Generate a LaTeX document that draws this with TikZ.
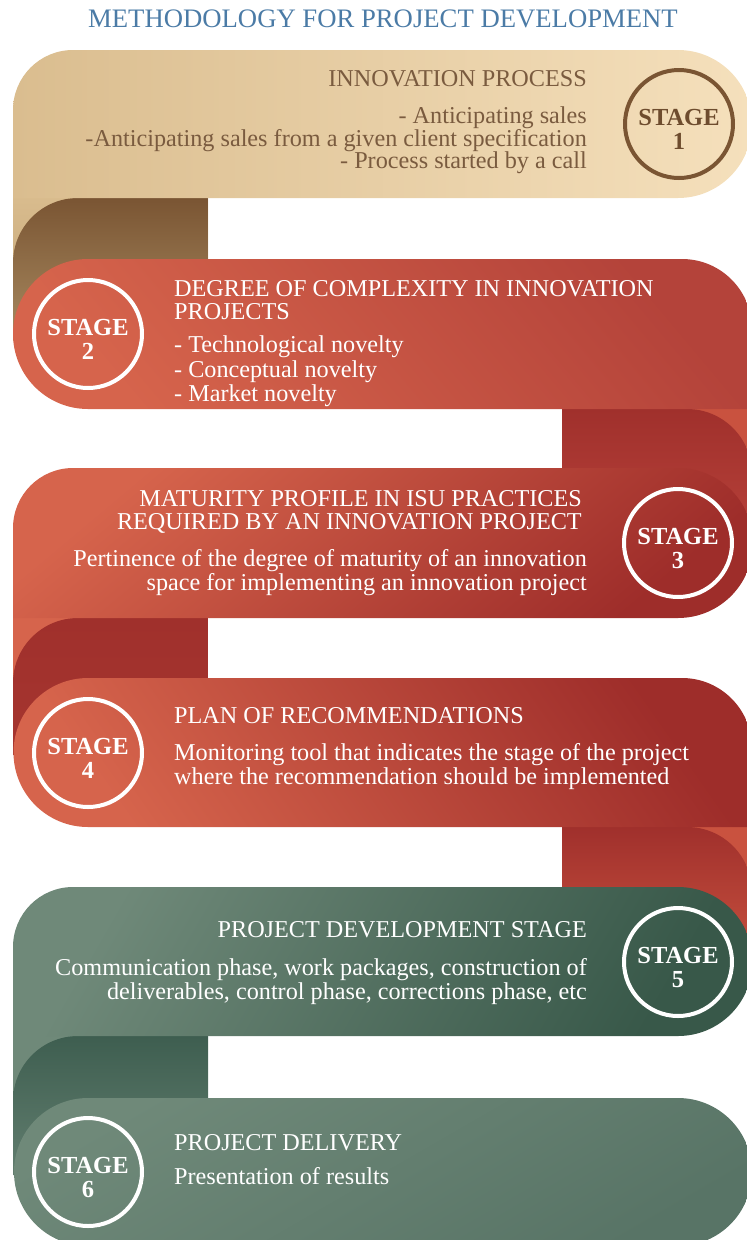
\documentclass[tikz,border=0pt]{standalone}
\usepackage{fontspec}
\setmainfont{Liberation Serif}
\usepackage{xcolor}
\usetikzlibrary{shapes.geometric,positioning}

\definecolor{titleblue}{HTML}{4B7BA6}
\definecolor{tanL}{HTML}{DABD8F}
\definecolor{tanM}{HTML}{F2DBB3}
\definecolor{tanR}{HTML}{F5E0BC}
\definecolor{tanB}{HTML}{BFA172}
\definecolor{brownD}{HTML}{7A5533}
\definecolor{brownL}{HTML}{A88A60}
\definecolor{browntxt}{HTML}{7A5B3F}
\definecolor{redL}{HTML}{D6644C}
\definecolor{redM}{HTML}{D05E48}
\definecolor{redD}{HTML}{9E2D2A}
\definecolor{redT}{HTML}{B4433A}
\definecolor{redF}{HTML}{A0302C}
\definecolor{redG}{HTML}{B8423A}
\definecolor{redE}{HTML}{C9523F}
\definecolor{greenL}{HTML}{6F8979}
\definecolor{greenM}{HTML}{56725F}
\definecolor{greenD}{HTML}{385849}
\definecolor{greenF}{HTML}{3E5E50}
\definecolor{greenG}{HTML}{627E6F}
\definecolor{greenS}{HTML}{587466}

\tikzset{
  stagering/.style={circle, draw=white, line width=4pt, minimum size=108pt, inner sep=0pt},
  stagelabel/.style={align=center, text=white, inner sep=0pt, yshift=-5pt,
    font=\bfseries\fontsize{24.5}{24}\selectfont},
  headtxt/.style={inner sep=0pt, text=white, font=\fontsize{24.2}{23}\selectfont},
  bodytxt/.style={inner sep=0pt, text=white, font=\fontsize{24.2}{24}\selectfont}
}

\begin{document}
\begin{tikzpicture}[x=1pt, y=-1pt]
  \useasboundingbox (0,0) rectangle (747,1240);
  \clip (0,0) rectangle (747,1240);

  % Title
  \node[font=\fontsize{26.7}{28}\selectfont, text=titleblue, anchor=north, inner sep=0pt]
    (title) at (383,10) {METHODOLOGY FOR PROJECT DEVELOPMENT};

  % Folds behind the bands
  \shade[top color=tanL, bottom color=tanB] (13,190) rectangle (208,340);
  \shade[top color=brownD, bottom color=brownL]
    (13,340) -- (13,263) arc[start angle=180, end angle=270, radius=65] -- (208,198) -- (208,340) -- cycle;
  \fill[redE] (562,400) rectangle (752,545);
  \shade[top color=redF, bottom color=redG]
    (562,409) -- (687,409) arc[start angle=270, end angle=360, radius=65] -- (752,545) -- (562,545) -- cycle;
  \fill[redL] (13,610) rectangle (208,755);
  \shade[top color=redF, bottom color=redF!90!redL]
    (13,755) -- (13,683) arc[start angle=180, end angle=270, radius=65] -- (208,618) -- (208,755) -- cycle;
  \fill[redE] (562,820) rectangle (752,965);
  \shade[top color=redF, bottom color=redE]
    (562,827) -- (687,827) arc[start angle=270, end angle=360, radius=65] -- (752,965) -- (562,965) -- cycle;
  \fill[greenL] (13,1030) rectangle (208,1175);
  \shade[top color=greenF, bottom color=greenG]
    (13,1175) -- (13,1101) arc[start angle=180, end angle=270, radius=65] -- (208,1036) -- (208,1175) -- cycle;

  % Stage 1
  \shade[left color=tanL, middle color=tanM, right color=tanR]
    (13,198) -- (13,110) arc[start angle=180, end angle=270, radius=60] -- (678,50)
    arc[start angle=270, end angle=450, radius=74] -- cycle;
  \node[stagering, draw=brownD] (s1) at (679,124) {};
  \node[stagelabel, text=brownD!90!black] (t1) at (s1) {STAGE\\1};
  \node[headtxt, text=browntxt, anchor=north east] (h1) at (587,70) {INNOVATION PROCESS};
  \node[bodytxt, text=browntxt, anchor=north east, align=right,
    font=\fontsize{24.2}{22.5}\selectfont] (b1) at (587,107)
    {- Anticipating sales\\-Anticipating sales from a given client specification\\- Process started by a call};

  % Stage 2
  \shade[top color=redT, bottom color=redL, shading angle=-50]
    (88,259) -- (682,259) arc[start angle=270, end angle=360, radius=70] -- (752,409)
    -- (88,409) arc[start angle=90, end angle=270, radius=75] -- cycle;
  \node[stagering] (s2) at (88,334) {};
  \node[stagelabel] (t2) at (s2) {STAGE\\2};
  \node[headtxt, anchor=north west, align=left] (h2) at (174,280)
    {DEGREE OF COMPLEXITY IN INNOVATION\\PROJECTS};
  \node[bodytxt, anchor=north west, align=left, font=\fontsize{24.2}{24.5}\selectfont]
    (b2) at (174,336) {- Technological novelty\\- Conceptual novelty\\- Market novelty};

  % Stage 3
  \shade[top color=redL, middle color=redM, bottom color=redD, shading angle=40]
    (13,618) -- (13,528) arc[start angle=180, end angle=270, radius=60] -- (678,468)
    arc[start angle=270, end angle=450, radius=75] -- cycle;
  \node[stagering] (s3) at (678,543) {};
  \node[stagelabel] (t3) at (s3) {STAGE\\3};
  \node[headtxt, anchor=north east, align=right] (h3) at (582,490)
    {MATURITY PROFILE IN ISU PRACTICES\\REQUIRED BY AN INNOVATION PROJECT};
  \node[bodytxt, anchor=north east, align=right] (b3) at (587,549)
    {Pertinence of the degree of maturity of an innovation\\space for implementing an innovation project};

  % Stage 4
  \shade[top color=redD, bottom color=redL, shading angle=-55]
    (88,678) -- (682,678) arc[start angle=270, end angle=360, radius=70] -- (752,827)
    -- (88,827) arc[start angle=90, end angle=270, radius=74.5] -- cycle;
  \node[stagering] (s4) at (88,753) {};
  \node[stagelabel] (t4) at (s4) {STAGE\\4};
  \node[headtxt, anchor=north west] (h4) at (174,707) {PLAN OF RECOMMENDATIONS};
  \node[bodytxt, anchor=north west, align=left] (b4) at (174,743)
    {Monitoring tool that indicates the stage of the project\\where the recommendation should be implemented};

  % Stage 5
  \shade[top color=greenL, middle color=greenM, bottom color=greenD, shading angle=60]
    (13,1036) -- (13,947) arc[start angle=180, end angle=270, radius=60] -- (678,887)
    arc[start angle=270, end angle=450, radius=74.5] -- cycle;
  \node[stagering] (s5) at (678,962) {};
  \node[stagelabel] (t5) at (s5) {STAGE\\5};
  \node[headtxt, anchor=north east] (h5) at (587,921) {PROJECT DEVELOPMENT STAGE};
  \node[bodytxt, anchor=north east, align=right] (b5) at (587,958)
    {Communication phase, work packages, construction of\\deliverables, control phase, corrections phase, etc};

  % Stage 6
  \shade[top color=greenL, bottom color=greenS, shading angle=30]
    (88,1098) -- (678,1098) arc[start angle=270, end angle=450, radius=74]
    -- (88,1246) arc[start angle=90, end angle=270, radius=74] -- cycle;
  \node[stagering] (s6) at (88,1172) {};
  \node[stagelabel] (t6) at (s6) {STAGE\\6};
  \node[headtxt, anchor=north west] (h6) at (174,1134) {PROJECT DELIVERY};
  \node[bodytxt, anchor=north west] (b6) at (174,1167) {Presentation of results};
\end{tikzpicture}
\end{document}
